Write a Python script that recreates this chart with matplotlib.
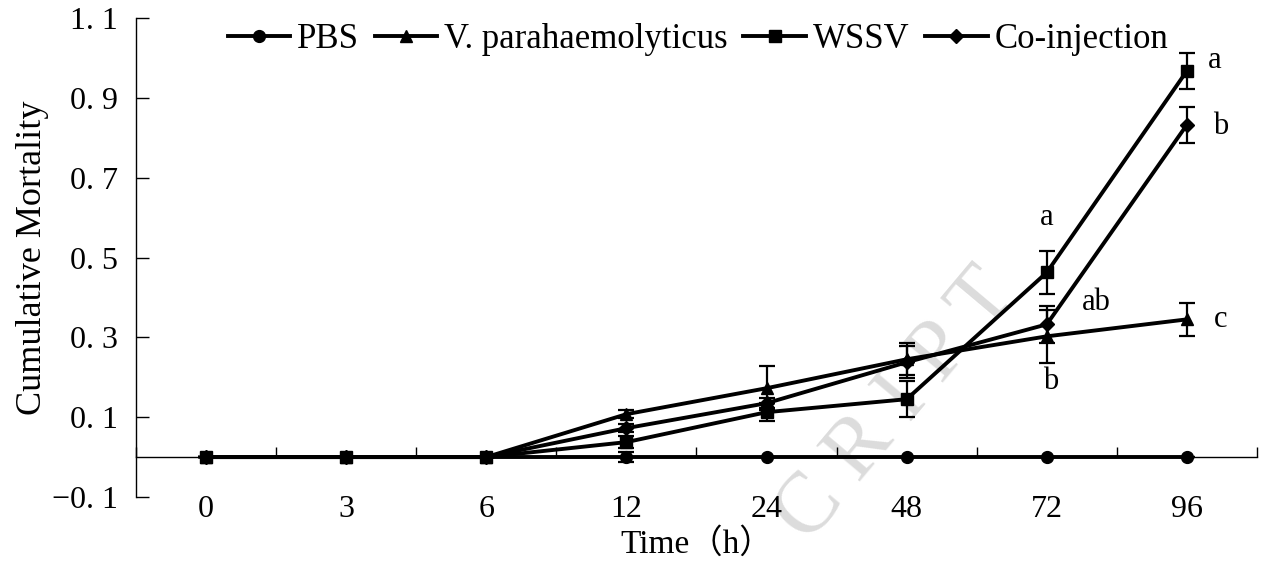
import matplotlib.pyplot as plt
import numpy as np

times = ["0", "3", "6", "12", "24", "48", "72", "96"]

pbs = [0, 0, 0, 0, 0, 0, 0, 0]
pbs_err = [0, 0, 0, 0.013, 0, 0, 0, 0]
vp = [0, 0, 0, 0.1075, 0.1725, 0.245, 0.3025, 0.345]
vp_err = [0, 0, 0, 0.01, 0.055, 0.04, 0.067, 0.042]
wssv = [0, 0, 0, 0.0375, 0.1125, 0.145, 0.4625, 0.9675]
wssv_err = [0, 0, 0, 0.015, 0.022, 0.045, 0.055, 0.045]
coinj = [0, 0, 0, 0.0725, 0.135, 0.2375, 0.3325, 0.8325]
coinj_err = [0, 0, 0, 0.01, 0.012, 0.04, 0.047, 0.045]

letters = ["a", "b", "c", "a", "ab", "b"]
letter_x = [7.15, 7.19, 7.19, 6.0, 6.25, 6.03]
letter_y = [0.9925, 0.8275, 0.345, 0.60, 0.3875, 0.19]

serif = ["Liberation Serif", "DejaVu Serif"]
plt.rcParams["font.family"] = serif

fig = plt.figure(figsize=(12.69, 5.68), dpi=100)
ax = fig.add_axes([0.1072, 0.125, 0.8833, 0.8433])

x = np.arange(len(times))

# watermark fragment
ax.text(5.68, 0.44, "C R I P T", rotation=50, ha="right", va="center",
        fontsize=62, color="#dcdcdc", zorder=0, rotation_mode="anchor")

series = [
    ("PBS", pbs, pbs_err, "o"),
    ("V. parahaemolyticus", vp, vp_err, "^"),
    ("WSSV", wssv, wssv_err, "s"),
    ("Co-injection", coinj, coinj_err, "D"),
]
for name, vals, err, mk in series:
    ms = 7 if mk == "D" else 8.5
    ax.errorbar(x, vals, yerr=err, fmt="none", ecolor="black",
                elinewidth=1.6, capsize=6, capthick=1.6, zorder=3)
    ax.plot(x, vals, color="black", lw=2.8, marker=mk, ms=ms, label=name, zorder=4)

for t, lx, ly in zip(letters, letter_x, letter_y):
    ax.text(lx, ly, t, fontsize=22, ha="left" if lx > 6.1 else "center", va="center")

ax.set_xlim(-0.5, 7.5)
ax.set_ylim(-0.1, 1.1)
ax.spines["top"].set_visible(False)
ax.spines["right"].set_visible(False)
ax.spines["bottom"].set_position(("data", 0))
ax.spines["bottom"].set_linewidth(1.0)
ax.spines["left"].set_linewidth(1.0)

ax.set_xticks(x)
ax.set_xticklabels(times, fontsize=23)
ax.set_xticks(np.arange(-0.5, 8, 1), minor=True)
ax.tick_params(axis="x", which="major", length=0, pad=27)
ax.tick_params(axis="x", which="minor", direction="in", length=7, width=1)

yt = [-0.1, 0.1, 0.3, 0.5, 0.7, 0.9, 1.1]
ax.set_yticks(yt)
ax.set_yticklabels(["\u22120. 1" if v < 0 else ("%.1f" % v).replace(".", ". ") for v in yt],
                   fontsize=23)
ax.tick_params(axis="y", direction="in", length=9, width=1, pad=13)

ax.set_ylabel("Cumulative Mortality", fontsize=26, labelpad=2)
ax.set_xlabel("Time\uff08h\uff09", fontsize=24, labelpad=3,
              fontfamily=["Liberation Serif", "Noto Sans CJK SC"])

fig.legend(loc="upper center", bbox_to_anchor=(0.55, 1.015), ncol=4, frameon=False,
           fontsize=25, handlelength=1.8, handletextpad=0.2, columnspacing=0.45)

fig.savefig("out.png", dpi=100)
